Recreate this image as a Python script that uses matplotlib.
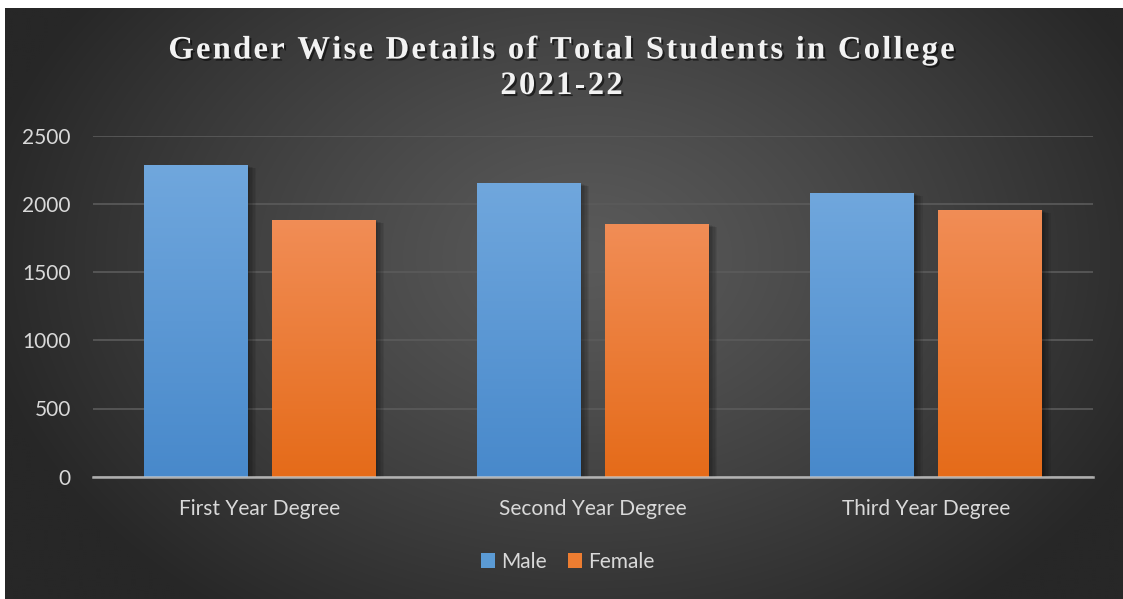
import numpy as np
import matplotlib
matplotlib.use("Agg")
import matplotlib.pyplot as plt
import matplotlib.patheffects as pe
from matplotlib.patches import Patch
from matplotlib.font_manager import findfont, FontProperties
from matplotlib.ft2font import FT2Font
from matplotlib.colors import LinearSegmentedColormap

# ---- data ----
categories = ["First Year Degree", "Second Year Degree", "Third Year Degree"]
male = [2285, 2153, 2080]
female = [1882, 1853, 1955]
series_names = ["Male", "Female"]
yticks = [0, 500, 1000, 1500, 2000, 2500]
title_lines = ["Gender Wise Details of Total Students in College", "2021-22"]

W, H, DPI = 1123, 599, 100
fig = plt.figure(figsize=(W / DPI, H / DPI), dpi=DPI, facecolor="white")

# ---- dark radial-gradient panel ----
bg = fig.add_axes([5 / W, 0, (W - 5) / W, (H - 8) / H])
bg.set_axis_off()
ny, nx = 300, 560
yy, xx = np.mgrid[0:ny, 0:nx]
cx, cy = nx * 0.52, ny * 0.42
r = np.sqrt(((xx - cx) / (nx * 0.55)) ** 2 + ((yy - cy) / (ny * 0.75)) ** 2)
r = np.clip(r, 0, 1)
inner, outer = 0x5a / 255, 0x27 / 255
val = inner + (outer - inner) * r ** 1.2
img = np.dstack([val, val, val])
bg.imshow(img, aspect="auto", extent=[0, 1, 0, 1], interpolation="bilinear")
bg.set_xlim(0, 1)
bg.set_ylim(0, 1)

# ---- main axes ----
ax = fig.add_axes([93 / W, (H - 476.7) / H, 1000 / W, (476.7 - 135.7) / H])
ax.set_facecolor("none")
x = np.arange(len(categories))
bw, off = 0.312, 0.192

shadow = [pe.SimplePatchShadow(offset=(d, -d * 0.4), shadow_rgbFace="black", alpha=0.07)
          for d in (1, 2, 3, 4, 5, 6)] + [pe.Normal()]
b1 = ax.bar(x - off, male, bw, color="#5b9bd5", zorder=2, path_effects=shadow)
b2 = ax.bar(x + off, female, bw, color="#ed7d31", zorder=2, path_effects=shadow)

cm_m = LinearSegmentedColormap.from_list("m", ["#4889cb", "#70a7dd"])
cm_f = LinearSegmentedColormap.from_list("f", ["#e56b19", "#f18d56"])
grad = np.linspace(0, 1, 256).reshape(-1, 1)
for bars, cm in ((b1, cm_m), (b2, cm_f)):
    for p in bars:
        x0, y0, w_, h_ = p.get_x(), p.get_y(), p.get_width(), p.get_height()
        im = ax.imshow(grad, cmap=cm, aspect="auto", origin="lower",
                       extent=[x0, x0 + w_, y0, y0 + h_], zorder=2.1)
        im.set_clip_path(p)

ax.set_xlim(-0.5, len(categories) - 0.5)
ax.set_ylim(0, 2500)
ax.set_yticks(yticks)
ax.set_xticks(x)
ax.set_xticklabels(categories)
for s in ("top", "right", "left"):
    ax.spines[s].set_visible(False)
ax.spines["bottom"].set_color("#d0d0d0")
ax.spines["bottom"].set_alpha(0.8)
ax.spines["bottom"].set_linewidth(1.8)
ax.spines["bottom"].set_zorder(5)
ax.yaxis.grid(True, color="#5b5b5b", linewidth=1.2, zorder=1)
ax.set_axisbelow(True)
tick_font = "Lato"
ax.tick_params(axis="both", length=0, labelcolor="#d9d9d9", labelsize=15)
ax.tick_params(axis="y", pad=16)
ax.tick_params(axis="x", pad=16)
for lab in ax.get_xticklabels() + ax.get_yticklabels():
    lab.set_fontfamily(tick_font)

# ---- title with letter spacing ----
tfp = FontProperties(family="Liberation Serif", weight="bold")
tsize = 23.5
font = FT2Font(findfont(tfp))
font.set_size(tsize, DPI)
spacing = 2.25
shadow_t = [pe.withSimplePatchShadow(offset=(1.5, -1.5), shadow_rgbFace="black", alpha=0.55)]
for line, base_px in zip(title_lines, (58.5, 94.0)):
    adv = [font.load_char(ord(c)).linearHoriAdvance / 65536 for c in line]
    total = sum(adv) + spacing * (len(line) - 1)
    xp = W / 2 - total / 2
    for c, a in zip(line, adv):
        if c != " ":
            fig.text(xp / W, (H - base_px) / H, c, fontproperties=tfp, fontsize=tsize,
                     color="#f2f2f2", ha="left", va="baseline", path_effects=shadow_t)
        xp += a + spacing

# ---- legend ----
handles = [Patch(facecolor="#5b9bd5"), Patch(facecolor="#ed7d31")]
leg = fig.legend(handles, series_names, loc="center", bbox_to_anchor=(567.5 / W, (H - 562) / H),
                 ncol=2, frameon=False, prop={"family": tick_font, "size": 15},
                 handlelength=0.68, handleheight=0.72, handletextpad=0.3, columnspacing=1.0,
                 labelcolor="#d9d9d9")

fig.savefig("out.png", dpi=DPI, facecolor="white")
